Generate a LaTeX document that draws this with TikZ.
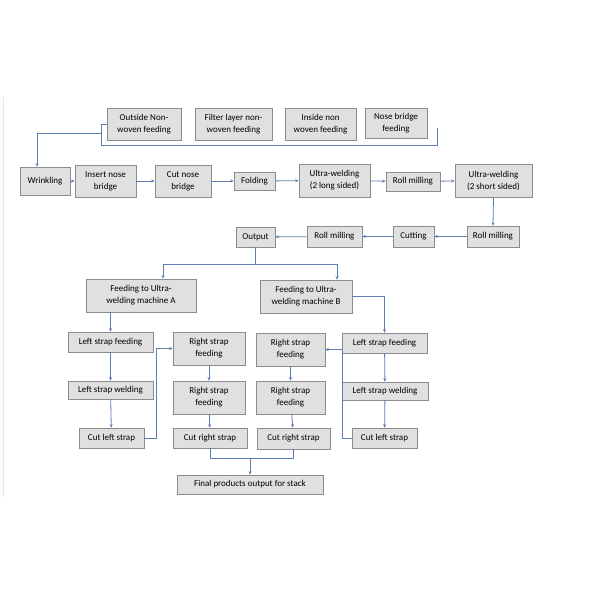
\documentclass[tikz,border=0pt]{standalone}
\usepackage{fontspec}
\setmainfont{Carlito}
\usetikzlibrary{arrows.meta}
\begin{document}
\begin{tikzpicture}[x=1pt,y=-1pt,
  box/.style={draw=black!45,fill=black!12,inner sep=0pt,align=center,font=\fontsize{9}{12}\selectfont,line width=0.6pt},
  ln/.style={draw=blue!35!black!50!cyan!60!gray,color={rgb,255:red,91;green,125;blue,177},line width=0.8pt},
  arr/.style={ln,-{Stealth[length=3.5pt,width=3pt]}}]
\useasboundingbox (0,0) rectangle (600,600);
\draw[black!10,line width=1pt] (3,97) -- (3,497);
\newcommand\bx[6]{\node[box,minimum width=#4,minimum height=#5] (#1) at (#2,#3) {#6};}
\bx{o1}{144}{124}{74}{32}{Outside Non-\\woven feeding}
\bx{o2}{233.5}{124}{77}{32}{Filter layer non-\\woven feeding}
\bx{o3}{320.5}{124}{71}{32}{Inside non\\woven feeding}
\bx{o4}{396}{123}{62}{30}{Nose bridge\\feeding}
\bx{wr}{45}{181}{50}{28}{Wrinkling}
\bx{ins}{105.5}{181}{61}{32}{Insert nose\\bridge}
\bx{cut}{183}{181}{56}{32}{Cut nose\\bridge}
\bx{fold}{254.5}{181}{41}{18}{Folding}
\bx{uw1}{334.5}{180.5}{71}{33}{Ultra-welding\\(2 long sided)}
\bx{rm1}{413}{181.5}{54}{19}{Roll milling}
\bx{uw2}{493.5}{180.5}{77}{33}{Ultra-welding\\(2 short sided)}
\bx{rm2}{493}{236.5}{52}{21}{Roll milling}
\bx{ctg}{413.5}{236.5}{41}{21}{Cutting}
\bx{rm3}{334.5}{236.5}{55}{21}{Roll milling}
\bx{out}{255.5}{237}{39}{20}{Output}
\bx{fa}{141}{295.5}{110}{33}{Feeding to Ultra-\\welding machine A}
\bx{fb}{306}{296.5}{92}{33}{Feeding to Ultra-\\welding machine B}
\bx{la1}{110.5}{342}{85}{20}{Left strap feeding}
\bx{la2}{110.5}{390}{85}{18}{Left strap welding}
\bx{la3}{111.5}{438}{65}{20}{Cut left strap}
\bx{ra1}{209}{348.5}{72}{33}{Right strap\\feeding}
\bx{ra2}{209}{397.5}{72}{33}{Right strap\\feeding}
\bx{ra3}{210}{438}{74}{20}{Cut right strap}
\bx{rb1}{290.5}{349.5}{69}{33}{Right strap\\feeding}
\bx{rb2}{290.5}{397.5}{69}{33}{Right strap\\feeding}
\bx{rb3}{293.5}{438.5}{73}{21}{Cut right strap}
\bx{lb1}{384.5}{343}{85}{20}{Left strap feeding}
\bx{lb2}{385}{391}{86}{18}{Left strap welding}
\bx{lb3}{384.5}{438}{65}{20}{Cut left strap}
\bx{fin}{250}{484.5}{146}{19}{Final products output for stack}
% top bracket
\coordinate (b1) at (101,124); \coordinate (b2) at (101,145);
\coordinate (b3) at (437,145); \coordinate (b4) at (437,128);
\coordinate (bl) at (101,133);
\draw[ln] (o1.west) -- (b1) -- (b2) -- (b3) -- (b4);
\draw[arr] (bl) -| ([xshift=-8]wr.north);
\draw[arr] (wr) -- (ins);
\draw[arr] (ins) -- (cut);
\draw[arr] (cut) -- (fold);
\draw[arr] (fold) -- (uw1);
\draw[arr] (uw1) -- (rm1);
\draw[arr] (rm1) -- (uw2);
\draw[arr] (uw2.south) -- (rm2.north);
\draw[arr] (rm2) -- (ctg);
\draw[arr] (ctg) -- (rm3);
\draw[arr] (rm3) -- (out);
\coordinate (sp) at (255.5,264);
\draw[ln] (out.south) -- (sp);
\draw[arr] (sp) -| ([xshift=22]fa.north);
\draw[arr] (sp) -| ([xshift=31]fb.north);
\draw[arr] (la1.north |- fa.south) -- (la1.north);
\draw[arr] (la1) -- (la2);
\draw[arr] (la2) -- (la3);
\draw[arr] (la3.east) -- ++(12,0) |- (ra1.west);
\draw[arr] (ra1) -- (ra2);
\draw[arr] (ra2) -- (ra3);
\draw[arr] (rb1) -- (rb2);
\draw[arr] (rb2) -- (rb3);
\draw[arr] (fb.east) -| (lb1.north);
\draw[arr] (lb1) -- (lb2);
\draw[arr] (lb2) -- (lb3);
\draw[arr] (lb3.west) -- ++(-9,0) |- (rb1.east);
\coordinate (bt1) at (210,458); \coordinate (bt2) at (293.5,458);
\coordinate (bm) at (250,458);
\draw[ln] (ra3.south) -- (bt1) -- (bt2) -- (rb3.south);
\draw[arr] (bm) -- (fin.north);
\end{tikzpicture}
\end{document}
